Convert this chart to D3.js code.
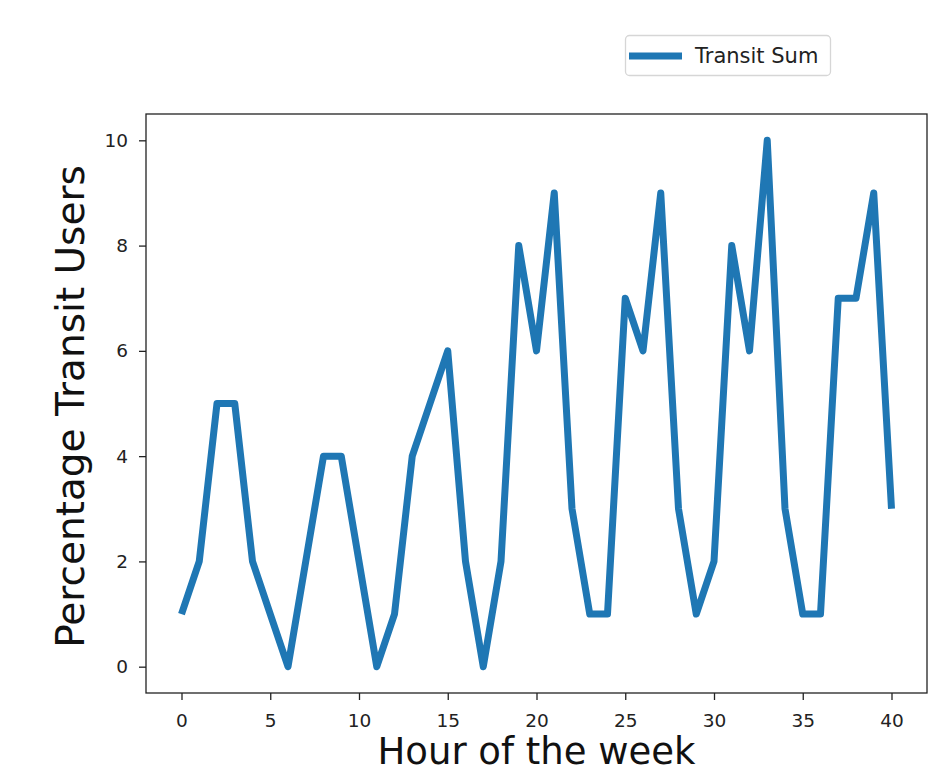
<!DOCTYPE html>
<html><head><meta charset="utf-8">
<script src="https://cdn.jsdelivr.net/npm/d3@7"></script>
<style>body{margin:0;background:#fff}svg{font-family:"DejaVu Sans",sans-serif}</style>
</head><body>
<svg id="c" width="949" height="773"></svg>
<script>
const hours = [0,1,2,3,4,5,6,7,8,9,10,11,12,13,14,15,16,17,18,19,20,21,22,23,24,25,26,27,28,29,30,31,32,33,34,35,36,37,38,39,40];
const transitSum = [1,2,5,5,2,1,0,2,4,4,2,0,1,4,5,6,2,0,2,8,6,9,3,1,1,7,6,9,3,1,2,8,6,10,3,1,1,7,7,9,3];
const xTicks = [0,5,10,15,20,25,30,35,40];
const yTicks = [0,2,4,6,8,10];
const seriesName = "Transit Sum";

const svg = d3.select("#c");
const L=146, R=927, T=114, B=693;
const x = d3.scaleLinear().domain([-2,42]).range([L,R]);
const y = d3.scaleLinear().domain([-0.5,10.5]).range([B,T]);

const xa = svg.append("g").attr("transform",`translate(0,${B})`)
  .call(d3.axisBottom(x).tickValues(xTicks).tickSize(7).tickPadding(14));
const ya = svg.append("g").attr("transform",`translate(${L},0)`)
  .call(d3.axisLeft(y).tickValues(yTicks).tickSize(7).tickPadding(11));
[xa,ya].forEach(a=>{a.select(".domain").remove();a.selectAll("text").attr("font-size",18.5).attr("fill","#222").attr("font-family","DejaVu Sans");a.selectAll("line").attr("stroke","#222").attr("stroke-width",1.3);});

svg.append("path").datum(hours.map((h,i)=>[h,transitSum[i]]))
  .attr("fill","none").attr("stroke","#1f77b4").attr("stroke-width",7)
  .attr("stroke-linejoin","round").attr("stroke-linecap","butt")
  .attr("d",d3.line().x(d=>x(d[0])).y(d=>y(d[1])));

svg.append("rect").attr("x",L).attr("y",T).attr("width",R-L).attr("height",B-T)
  .attr("fill","none").attr("stroke","#222").attr("stroke-width",1.3);

svg.append("text").attr("x",(L+R)/2).attr("y",764).attr("text-anchor","middle")
  .attr("font-size",37).attr("fill","#111").text("Hour of the week");
svg.append("text").attr("transform",`translate(84,${(T+B)/2+3}) rotate(-90)`).attr("text-anchor","middle")
  .attr("font-size",39).attr("fill","#111").text("Percentage Transit Users");

const lg = svg.append("g");
lg.append("rect").attr("x",625.5).attr("y",35.5).attr("width",205).attr("height",40).attr("rx",4)
  .attr("fill","#fff").attr("stroke","#d6d6d6").attr("stroke-width",1.3);
lg.append("line").attr("x1",629).attr("x2",682).attr("y1",56).attr("y2",56)
  .attr("stroke","#1f77b4").attr("stroke-width",7);
lg.append("text").attr("x",695).attr("y",62.5).attr("font-size",21).attr("fill","#222").text(seriesName);
</script>
</body></html>
